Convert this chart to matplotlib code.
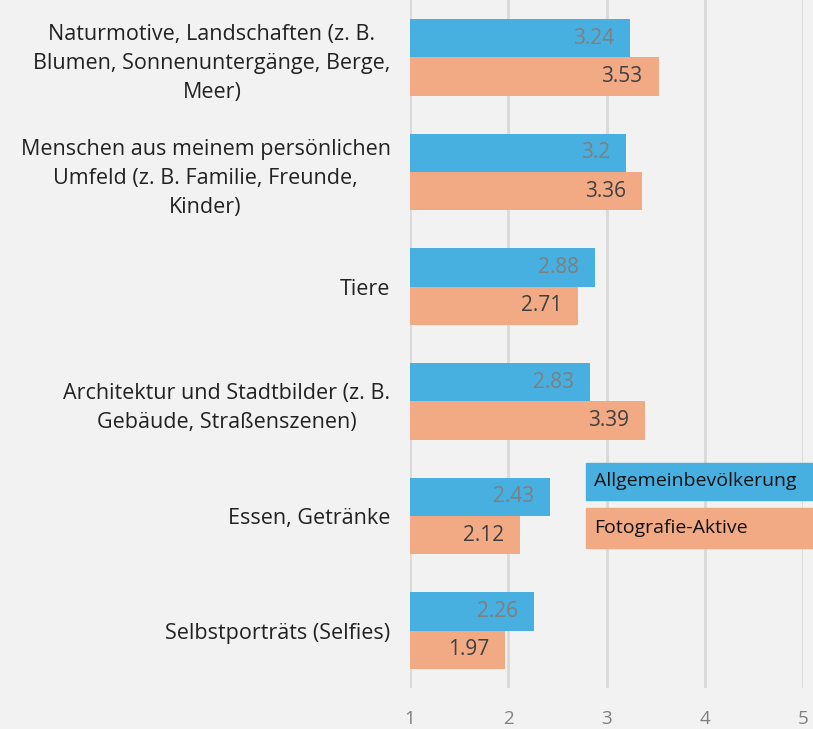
import matplotlib.pyplot as plt
import matplotlib.patches as mpatches
import numpy as np

categories = [
    "Naturmotive, Landschaften (z. B.\nBlumen, Sonnenuntergänge, Berge,\nMeer)",
    "Menschen aus meinem persönlichen\nUmfeld (z. B. Familie, Freunde,\nKinder)",
    "Tiere",
    "Architektur und Stadtbilder (z. B.\nGebäude, Straßenszenen)",
    "Essen, Getränke",
    "Selbstporträts (Selfies)",
]
allgemein = [3.24, 3.2, 2.88, 2.83, 2.43, 2.26]
foto_aktive = [3.53, 3.36, 2.71, 3.39, 2.12, 1.97]
series_names = ["Allgemeinbevölkerung", "Fotografie-Aktive"]
xticks = [1, 2, 3, 4, 5]

blue = "#47b0e0"
orange = "#f2aa84"
bg = "#f2f2f2"

plt.rcParams['font.family'] = ['Open Sans', 'DejaVu Sans']

fig = plt.figure(figsize=(8.13, 7.29), dpi=100, facecolor=bg)
ax = fig.add_axes([410 / 813, 41 / 729, 393 / 813, 688 / 729])
ax.set_facecolor(bg)

y = np.arange(len(categories))
h = 0.335
base = 1
ax.barh(y - h / 2, np.array(allgemein) - base, left=base, height=h, color=blue, zorder=3)
ax.barh(y + h / 2, np.array(foto_aktive) - base, left=base, height=h, color=orange, zorder=3)

for yi, v in zip(y, allgemein):
    ax.annotate(f"{v:g}", (v, yi - h / 2), xytext=(-16, 0), textcoords="offset pixels",
                ha="right", va="center", fontsize=15, color="#7f7f7f", zorder=4)
for yi, v in zip(y, foto_aktive):
    ax.annotate(f"{v:g}", (v, yi + h / 2), xytext=(-16, 0), textcoords="offset pixels",
                ha="right", va="center", fontsize=15, color="#404040", zorder=4)

ax.set_xlim(1, 5)
ax.set_ylim(len(categories) - 0.5, -0.5)
ax.set_xticks(xticks)
ax.set_xticklabels([str(t) for t in xticks], fontsize=13.5, color="#808080")
ax.set_yticks(y)
ax.set_yticklabels(categories, fontsize=15.5, color="#222222",
                   multialignment="center", linespacing=1.5)
ax.tick_params(axis="y", length=0, pad=14)
ax.tick_params(axis="x", length=0, pad=16)
ax.grid(axis="x", color="#d9d9d9", linewidth=2, zorder=0)
ax.set_axisbelow(True)
for s in ax.spines.values():
    s.set_visible(False)

# legend boxes
for i, (name, col) in enumerate(zip(series_names, [blue, orange])):
    top = [463, 508][i]
    hgt = [37, 40][i]
    fig.patches.append(mpatches.Rectangle((586 / 813, 1 - (top + hgt) / 729), 240 / 813, hgt / 729,
                                          transform=fig.transFigure, color=col, zorder=5))
    fig.text(594 / 813, 1 - (top + hgt / 2) / 729, name, fontsize=14, color="#111111",
             va="center", ha="left", zorder=6)

plt.savefig("out.png", dpi=100, facecolor=bg)
